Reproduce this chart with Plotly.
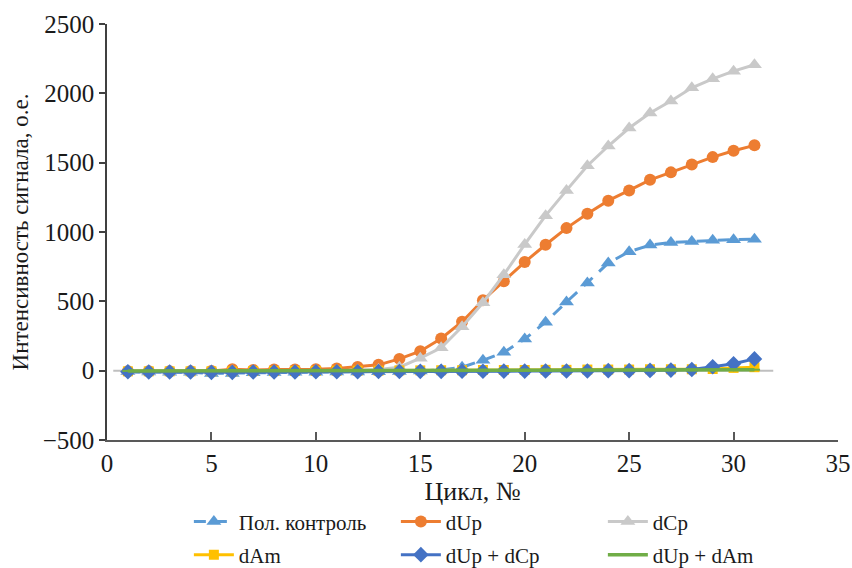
import plotly.graph_objects as go

cycles = list(range(1, 32))

pol_control = [-8, -10, -12, -12, -20, -20, -15, -14, -12, -12, -10, -10, -8, -6, -3,
               5, 25, 75, 132, 228, 350, 495, 632, 776, 858, 906, 925, 932, 940, 945, 948]
dUp = [-5, -5, -5, -5, -3, 10, 5, 8, 8, 10, 15, 27, 42, 85, 140,
       232, 353, 508, 645, 783, 908, 1028, 1132, 1226, 1300, 1376, 1430, 1486, 1540, 1586, 1625]
dCp = [-5, -5, -5, -5, -5, -3, -3, -2, -2, 0, 0, 3, 8, 25, 90,
       165, 317, 490, 692, 910, 1118, 1300, 1478, 1620, 1750, 1858, 1945, 2040, 2105, 2160, 2206]
dAm = [-5, -5, -5, -5, -5, -5, -3, -3, -2, -2, 0, 0, 0, 2, 2,
       3, 3, 5, 5, 5, 6, 6, 8, 8, 8, 10, 10, 10, 12, 20, 25]
dUp_dCp = [-8, -10, -10, -10, -12, -12, -10, -10, -10, -8, -8, -8, -6, -6, -5,
           -5, -4, -4, -3, -3, -2, -2, -2, 0, 0, 2, 4, 8, 28, 50, 85]
dUp_dAm = [-2, -2, -2, -2, -2, -1, -1, -1, 0, 0, 0, 0, 1, 1, 1,
           2, 2, 2, 3, 3, 3, 4, 4, 4, 5, 5, 5, 6, 6, 6, 7]

baseline_x = [0.3, 31.9]
baseline_y = [0, 0]

x_ticks = [0, 5, 10, 15, 20, 25, 30, 35]
y_ticks = [-500, 0, 500, 1000, 1500, 2000, 2500]
y_ticktext = ["\u2212500", "0", "500", "1000", "1500", "2000", "2500"]

FONT = "Liberation Serif"

fig = go.Figure()

fig.add_trace(go.Scatter(x=baseline_x, y=baseline_y, mode="lines",
                         line=dict(color="#BFBFBF", width=2),
                         showlegend=False, hoverinfo="skip"))

fig.add_trace(go.Scatter(x=cycles, y=pol_control, mode="lines+markers", name="Пол. контроль",
                         legend="legend",
                         line=dict(color="#5B9BD5", width=3, dash="12px,9px"),
                         marker=dict(symbol="triangle-up", size=13, color="#5B9BD5")))
fig.add_trace(go.Scatter(x=cycles, y=dUp, mode="lines+markers", name="dUp",
                         legend="legend",
                         line=dict(color="#ED7D31", width=3),
                         marker=dict(symbol="circle", size=12, color="#ED7D31")))
fig.add_trace(go.Scatter(x=cycles, y=dCp, mode="lines+markers", name="dCp",
                         legend="legend",
                         line=dict(color="#C9C9C9", width=3),
                         marker=dict(symbol="triangle-up", size=13, color="#C9C9C9")))
fig.add_trace(go.Scatter(x=cycles, y=dAm, mode="lines+markers", name="dAm",
                         legend="legend2",
                         line=dict(color="#FFC000", width=3),
                         marker=dict(symbol="square", size=10, color="#FFC000")))
fig.add_trace(go.Scatter(x=cycles, y=dUp_dCp, mode="lines+markers", name="dUp + dCp",
                         legend="legend2",
                         line=dict(color="#4472C4", width=3),
                         marker=dict(symbol="diamond", size=12, color="#4472C4")))
fig.add_trace(go.Scatter(x=cycles, y=dUp_dAm, mode="lines+markers", name="dUp + dAm",
                         legend="legend2",
                         line=dict(color="#70AD47", width=3.5),
                         marker=dict(symbol="line-ew", size=8, color="#70AD47",
                                     line=dict(color="#70AD47", width=2))))

legend_common = dict(orientation="h", xanchor="left", yanchor="middle",
                     entrywidth=152, entrywidthmode="pixels",
                     font=dict(family=FONT, size=21, color="#1a1a1a"),
                     itemwidth=40, bgcolor="rgba(0,0,0,0)")

fig.update_layout(
    width=852, height=568,
    margin=dict(l=107, r=14, t=24, b=128, autoexpand=False),
    paper_bgcolor="white", plot_bgcolor="white",
    font=dict(family=FONT, color="#1a1a1a", size=20),
    xaxis=dict(range=[0, 35], tickvals=x_ticks, showgrid=False, zeroline=False,
               automargin=False,
               showline=True, linecolor="#595959", linewidth=1.5,
               ticks="inside", ticklen=8, tickcolor="#595959", tickwidth=1.5,
               tickfont=dict(family=FONT, size=25),
               title=dict(text="Цикл, №", font=dict(family=FONT, size=26), standoff=4)),
    yaxis=dict(range=[-500, 2500], tickvals=y_ticks, ticktext=y_ticktext,
               showgrid=False, zeroline=False, automargin=False,
               showline=True, linecolor="#404040", linewidth=1.5,
               ticks="outside", ticklen=6, tickcolor="#404040", tickwidth=1.5,
               tickfont=dict(family=FONT, size=25),
               title=dict(text="Интенсивность сигнала, о.е.", font=dict(family=FONT, size=23), standoff=8)),
    legend=dict(x=0.112, y=-0.197, **legend_common),
    legend2=dict(x=0.112, y=-0.2764, **legend_common),
    showlegend=True,
)

fig.write_html("out.html",
               config={"displayModeBar": False},
               post_script="document.body.style.margin='0';document.body.style.overflow='hidden';")
